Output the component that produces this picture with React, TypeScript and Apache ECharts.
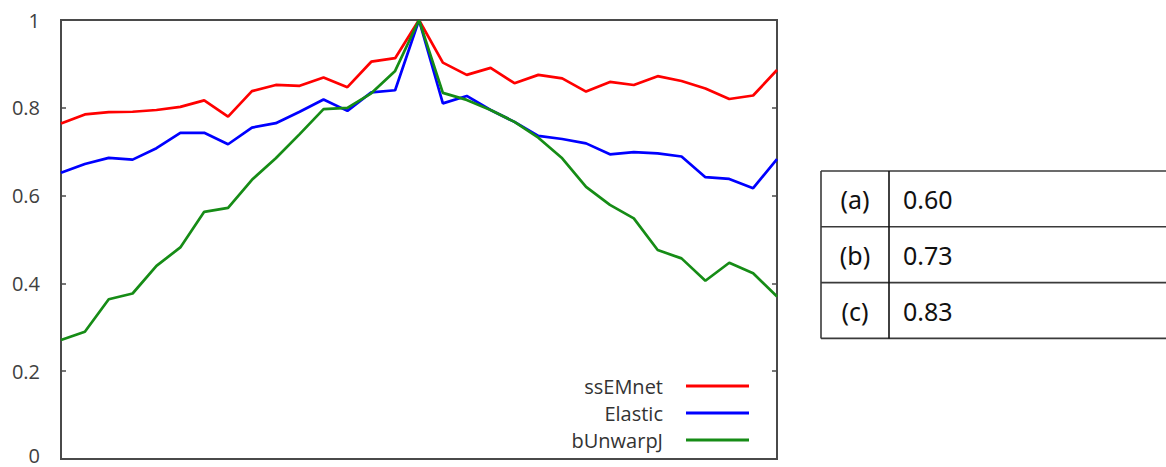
import React, { useEffect, useRef } from "react";
import * as echarts from "echarts";

const categories = ["1","2","3","4","5","6","7","8","9","10","11","12","13","14","15","16","17","18","19","20","21","22","23","24","25","26","27","28","29","30","31"];
const ssEMnet = [0.764,0.785,0.790,0.791,0.795,0.802,0.817,0.780,0.838,0.852,0.850,0.869,0.847,0.905,0.913,1.0,0.903,0.875,0.891,0.856,0.875,0.867,0.837,0.859,0.852,0.872,0.861,0.844,0.820,0.828,0.886];
const elastic = [0.652,0.672,0.686,0.682,0.708,0.743,0.743,0.717,0.755,0.765,0.791,0.819,0.793,0.835,0.840,1.0,0.810,0.827,0.795,0.768,0.736,0.729,0.719,0.694,0.699,0.696,0.689,0.642,0.638,0.617,0.683];
const bUnwarpJ = [0.271,0.290,0.364,0.377,0.440,0.482,0.563,0.572,0.636,0.685,0.740,0.797,0.800,0.833,0.884,1.0,0.834,0.818,0.795,0.768,0.732,0.685,0.620,0.579,0.548,0.476,0.457,0.406,0.447,0.423,0.370];
const seriesNames = ["ssEMnet", "Elastic", "bUnwarpJ"];
const seriesColors = ["#ff0000", "#0000ff", "#168c16"];
const tableLabels = ["(a)", "(b)", "(c)"];
const tableValues = ["0.60", "0.73", "0.83"];

export default function App() {
  const ref = useRef<HTMLDivElement>(null);
  useEffect(() => {
    document.body.style.margin = "0";
    const chart = echarts.init(ref.current!, null, { renderer: "svg" });
    const font = "'Open Sans', 'Noto Sans', sans-serif";
    const axisColor = "#4a4a4a";

    // table layout
    const tLeft = 821, tDiv = 889, tRight = 1166, tTop = 171, rowH = 55.8;
    const tableEls: any[] = [];
    const lineStyle = { stroke: "#3a3a3a", lineWidth: 1.6 };
    for (let r = 0; r <= tableLabels.length; r++) {
      const y = tTop + r * rowH;
      tableEls.push({ type: "line", shape: { x1: tLeft, y1: y, x2: tRight, y2: y }, style: lineStyle });
    }
    const tBottom = tTop + tableLabels.length * rowH;
    tableEls.push({ type: "line", shape: { x1: tLeft, y1: tTop, x2: tLeft, y2: tBottom }, style: lineStyle });
    tableEls.push({ type: "line", shape: { x1: tDiv, y1: tTop, x2: tDiv, y2: tBottom }, style: { stroke: "#111", lineWidth: 1.6 } });
    tableLabels.forEach((lab, r) => {
      const cy = tTop + r * rowH + rowH / 2;
      tableEls.push({
        type: "text",
        style: { text: lab, x: (tLeft + tDiv) / 2, y: cy, align: "center", verticalAlign: "middle", fontSize: 25, fontFamily: "'Noto Sans', sans-serif", fill: "#111" },
      });
      tableEls.push({
        type: "text",
        style: { text: tableValues[r], x: 903, y: cy, align: "left", verticalAlign: "middle", fontSize: 25, fontFamily: "'Noto Sans', sans-serif", fill: "#111" },
      });
    });

    const mk = (name: string, data: number[], color: string) => ({
      name,
      type: "line",
      data,
      showSymbol: false,
      symbol: "none",
      lineStyle: { color, width: 2.7 },
      itemStyle: { color },
    });

    chart.setOption({
      animation: false,
      grid: {
        left: 61, top: 20, right: 389, bottom: 8,
        outerBoundsMode: "none",
        containLabel: false,
        show: true, borderColor: axisColor, borderWidth: 2, backgroundColor: "transparent",
      },
      legend: {
        orient: "vertical",
        align: "right",
        right: 417,
        top: 376,
        padding: 0,
        icon: "rect",
        itemWidth: 63,
        itemHeight: 3,
        itemGap: 7,
        selectedMode: false,
        textStyle: { fontSize: 20, fontFamily: font, color: "#333", lineHeight: 20, padding: [0, 18, 0, 0] },
        data: seriesNames,
      },
      xAxis: {
        type: "category",
        data: categories,
        boundaryGap: false,
        axisLine: { show: false },
        axisTick: { show: false },
        axisLabel: { show: false },
        splitLine: { show: false },
      },
      yAxis: [
        {
          type: "value",
          min: 0,
          max: 1,
          interval: 0.2,
          axisLine: { show: false },
          axisTick: { show: true, inside: true, length: 5, lineStyle: { color: axisColor, width: 1.5 } },
          axisLabel: {
            fontSize: 20,
            fontFamily: font,
            color: "#404040",
            margin: 21,
            lineHeight: 15,
            formatter: (v: number) => (v === 0 ? "{z|0}" : String(v)),
            rich: { z: { fontSize: 20, fontFamily: font, color: "#404040", lineHeight: 15, padding: [0, 0, 8, 0] } },
          },
          splitLine: { show: false },
        },
        {
          type: "value",
          position: "right",
          min: 0,
          max: 1,
          interval: 0.2,
          axisLine: { show: false },
          axisTick: { show: true, inside: true, length: 5, lineStyle: { color: axisColor, width: 1.5 } },
          axisLabel: { show: false },
          splitLine: { show: false },
        },
      ],
      series: [
        mk(seriesNames[0], ssEMnet, seriesColors[0]),
        mk(seriesNames[1], elastic, seriesColors[1]),
        mk(seriesNames[2], bUnwarpJ, seriesColors[2]),
      ],
      graphic: tableEls,
    });
    return () => chart.dispose();
  }, []);
  return <div ref={ref} style={{ width: 1166, height: 467 }} />;
}
